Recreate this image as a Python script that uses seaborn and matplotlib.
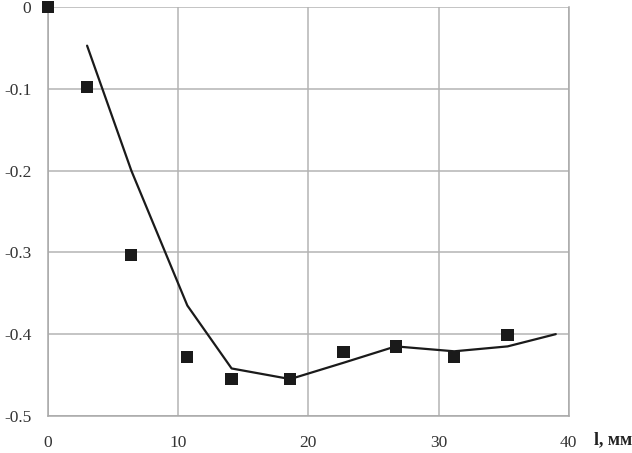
"""
Measured points vs. calculated curve along l, mm.
"""

import matplotlib
matplotlib.use("Agg")
import matplotlib.pyplot as plt
import seaborn as sns
import pandas as pd

# measured points (squares)
meas_x = [0.0, 3.0, 6.4, 10.7, 14.1, 18.6, 22.7, 26.7, 31.2, 35.3]
meas_y = [0.0, -0.098, -0.303, -0.428, -0.455, -0.455, -0.422, -0.415, -0.428, -0.401]

# calculated curve
calc_x = [3.0, 6.4, 10.7, 14.1, 18.6, 22.7, 26.7, 31.2, 35.3, 39.0]
calc_y = [-0.047, -0.200, -0.365, -0.442, -0.455, -0.435, -0.415, -0.421, -0.415, -0.400]

x_ticks = [0, 10, 20, 30, 40]
x_labels = ["0", "10", "20", "30", "40"]
y_ticks = [0, -0.1, -0.2, -0.3, -0.4, -0.5]
y_labels = ["0", "-0.1", "-0.2", "-0.3", "-0.4", "-0.5"]
x_title = "l, мм"


def main():
    sns.set_theme(style="whitegrid")
    plt.rcParams["font.family"] = ["Liberation Serif", "DejaVu Serif"]

    meas = pd.DataFrame({"l": meas_x, "v": meas_y})
    calc = pd.DataFrame({"l": calc_x, "v": calc_y})

    fig = plt.figure(figsize=(6.32, 4.53), dpi=100)
    ax = fig.add_axes([0.076, 0.082, 0.824, 0.902])

    sns.lineplot(data=calc, x="l", y="v", ax=ax, color="#1a1a1a",
                 linewidth=1.6, zorder=3)
    sns.scatterplot(data=meas, x="l", y="v", ax=ax, marker="s", s=78,
                    color="#1a1a1a", edgecolor="none", zorder=4, clip_on=False)

    ax.set_xlim(0, 40)
    ax.set_ylim(-0.5, 0)
    ax.set_xticks(x_ticks)
    ax.set_xticklabels(x_labels)
    ax.set_yticks(y_ticks)
    ax.set_yticklabels(y_labels)
    ax.set_xlabel("")
    ax.set_ylabel("")
    ax.tick_params(axis="both", length=0, labelsize=12.5, colors="#333333")
    ax.tick_params(axis="x", pad=14)
    ax.tick_params(axis="y", pad=12)
    ax.grid(True, color="#b4b4b4", linewidth=1.1)

    ax.spines["top"].set_visible(False)
    for side in ["left", "right", "bottom"]:
        ax.spines[side].set_color("#a8a8a8")
        ax.spines[side].set_linewidth(1.1)

    fig.text(0.94, 0.02, x_title, fontsize=13, fontweight="bold",
             color="#222222", ha="left", va="baseline")

    fig.savefig("out.png", dpi=100)


if __name__ == "__main__":
    main()
